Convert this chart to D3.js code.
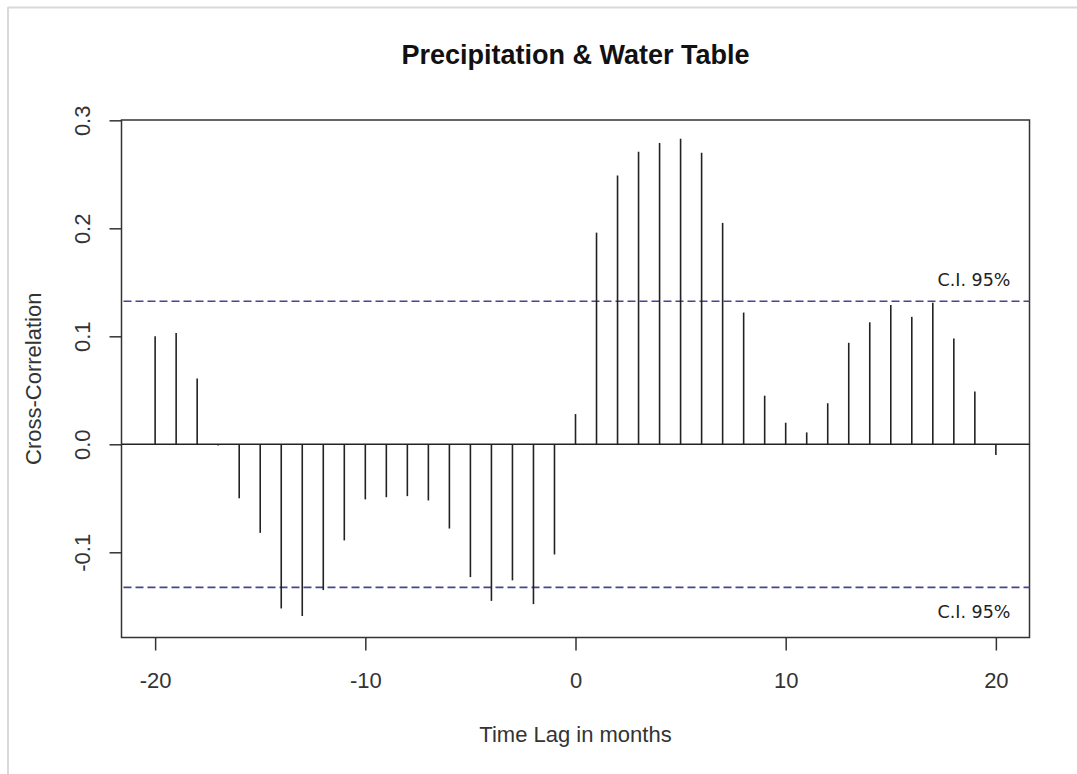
<!DOCTYPE html>
<html>
<head>
<meta charset="utf-8">
<script src="https://cdn.jsdelivr.net/npm/d3@7"></script>
<style>
  html, body { margin: 0; padding: 0; background: #fff; }
  svg { display: block; }
</style>
</head>
<body>
<svg id="chart" width="1077" height="774"></svg>
<script>
// ---- data ----
const lags = [-20,-19,-18,-17,-16,-15,-14,-13,-12,-11,-10,-9,-8,-7,-6,-5,-4,-3,-2,-1,
               0,1,2,3,4,5,6,7,8,9,10,11,12,13,14,15,16,17,18,19,20];
const crossCorr = [0.100,0.103,0.061,-0.001,-0.050,-0.082,-0.152,-0.159,-0.135,-0.089,
                   -0.051,-0.049,-0.048,-0.052,-0.078,-0.123,-0.145,-0.126,-0.148,-0.102,
                   0.028,0.196,0.249,0.271,0.279,0.283,0.270,0.205,0.122,0.045,
                   0.020,0.011,0.038,0.094,0.113,0.129,0.118,0.131,0.098,0.049,-0.010];
const ciLimit = 0.1325;
const xTicks = [-20,-10,0,10,20];
const xTickLabels = ["-20","-10","0","10","20"];
const yTicks = [-0.1,0.0,0.1,0.2,0.3];
const yTickLabels = ["-0.1","0.0","0.1","0.2","0.3"];
const ciLabel = "C.I. 95%";
const title = "Precipitation & Water Table";
const xTitle = "Time Lag in months";
const yTitle = "Cross-Correlation";

// ---- layout ----
const box = {left: 121.5, right: 1029.5, top: 120, bottom: 637.5};
const svg = d3.select("#chart");

const x = d3.scaleLinear().domain([-21.6, 21.6]).range([box.left, box.right]);
const y = d3.scaleLinear().domain([-0.1789, 0.3003]).range([box.bottom, box.top]);

// outer light frame (top and left edges)
svg.append("line").attr("x1", 8).attr("x2", 1077).attr("y1", 7.5).attr("y2", 7.5)
  .attr("stroke", "#d9d9d9").attr("stroke-width", 2);
svg.append("line").attr("x1", 8).attr("x2", 8).attr("y1", 7).attr("y2", 774)
  .attr("stroke", "#d9d9d9").attr("stroke-width", 2);

const fontMain = "'Liberation Sans', Arial, sans-serif";

// title
svg.append("text")
  .attr("x", (box.left + box.right) / 2).attr("y", 64)
  .attr("text-anchor", "middle")
  .attr("font-family", fontMain).attr("font-weight", "bold").attr("font-size", 27)
  .attr("fill", "#111")
  .text(title);

// plot box
svg.append("rect")
  .attr("x", box.left).attr("y", box.top)
  .attr("width", box.right - box.left).attr("height", box.bottom - box.top)
  .attr("fill", "none").attr("stroke", "#333").attr("stroke-width", 1.5);

// x axis
const xAxis = svg.append("g")
  .attr("transform", `translate(0,${box.bottom})`)
  .call(d3.axisBottom(x).tickValues(xTicks).tickSize(13)
    .tickFormat((d, i) => xTickLabels[i]));
xAxis.select(".domain").remove();
xAxis.selectAll(".tick line").attr("stroke", "#333").attr("stroke-width", 1.5);
xAxis.selectAll(".tick text")
  .attr("y", 50).attr("dy", 0)
  .attr("font-family", fontMain).attr("font-size", 22).attr("fill", "#333");

// y axis
const yAxis = svg.append("g")
  .attr("transform", `translate(${box.left},0)`)
  .call(d3.axisLeft(y).tickValues(yTicks).tickSize(12)
    .tickFormat((d, i) => yTickLabels[i]));
yAxis.select(".domain").remove();
yAxis.selectAll(".tick line").attr("stroke", "#333").attr("stroke-width", 1.5);
yAxis.selectAll(".tick text")
  .attr("x", 0).attr("y", 0).attr("dy", 0)
  .attr("text-anchor", "middle")
  .attr("transform", "translate(-32,0) rotate(-90)")
  .attr("font-family", fontMain).attr("font-size", 22).attr("fill", "#333");

// axis titles
svg.append("text")
  .attr("x", (box.left + box.right) / 2).attr("y", 742)
  .attr("text-anchor", "middle")
  .attr("font-family", fontMain).attr("font-size", 22).attr("fill", "#333")
  .text(xTitle);
svg.append("text")
  .attr("transform", `translate(41,${(box.top + box.bottom) / 2}) rotate(-90)`)
  .attr("text-anchor", "middle")
  .attr("font-family", fontMain).attr("font-size", 22).attr("fill", "#333")
  .text(yTitle);

// zero line
svg.append("line")
  .attr("x1", box.left).attr("x2", box.right)
  .attr("y1", y(0)).attr("y2", y(0))
  .attr("stroke", "#222").attr("stroke-width", 1.5);

// confidence lines
[ciLimit, -ciLimit].forEach(v => {
  svg.append("line")
    .attr("x1", box.left + 2).attr("x2", box.right)
    .attr("y1", y(v)).attr("y2", y(v))
    .attr("stroke", "#46468e").attr("stroke-width", 1.6)
    .attr("stroke-dasharray", "8,4");
});

// stems
svg.append("g").selectAll("line")
  .data(lags.map((l, i) => ({lag: l, v: crossCorr[i]})))
  .join("line")
  .attr("x1", d => x(d.lag)).attr("x2", d => x(d.lag))
  .attr("y1", y(0)).attr("y2", d => y(d.v))
  .attr("stroke", "#222").attr("stroke-width", 1.6);

// C.I. labels
const ciFont = "'DejaVu Sans', Verdana, sans-serif";
svg.append("text")
  .attr("x", 974).attr("y", 286).attr("text-anchor", "middle")
  .attr("font-family", ciFont).attr("font-size", 17.5).attr("fill", "#222")
  .text(ciLabel);
svg.append("text")
  .attr("x", 974).attr("y", 618).attr("text-anchor", "middle")
  .attr("font-family", ciFont).attr("font-size", 17.5).attr("fill", "#222")
  .text(ciLabel);
</script>
</body>
</html>
